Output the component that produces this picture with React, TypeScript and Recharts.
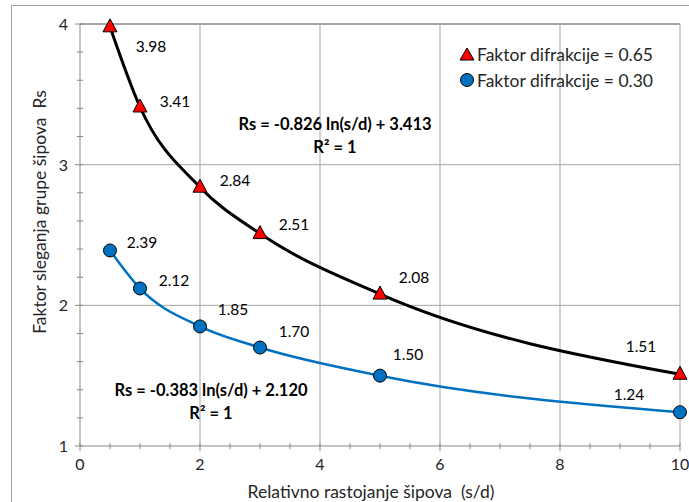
import React from 'react';
import { ComposedChart, Line, Scatter, XAxis, YAxis, ReferenceLine } from 'recharts';

const distances = [0.5, 1, 2, 3, 5, 10];
const rs065 = [3.98, 3.41, 2.84, 2.51, 2.08, 1.51];
const rs030 = [2.39, 2.12, 1.85, 1.7, 1.5, 1.24];

const xTicks = [0, 0.5, 1, 1.5, 2, 2.5, 3, 3.5, 4, 4.5, 5, 5.5, 6, 6.5, 7, 7.5, 8, 8.5, 9, 9.5, 10];
const yTicks = [1, 1.2, 1.4, 1.6, 1.8, 2, 2.2, 2.4, 2.6, 2.8, 3, 3.2, 3.4, 3.6, 3.8, 4];
const xGrid = [2, 4, 6, 8, 10];
const yGrid = [2, 3, 4];

// label offsets from each marker, in px
const redLabelOffsets = [[41, 19], [35, -6], [35, -7], [34, -10], [34, -17], [-39, -28]];
const blueLabelOffsets = [[32, -8], [34, -8], [33, -17], [34, -17], [28, -22], [-51, -18]];

const redData = distances.map((x, i) => ({ x, y: rs065[i] }));
const blueData = distances.map((x, i) => ({ x, y: rs030[i] }));

const FONT = 'Lato, "Open Sans", sans-serif';
const AXIS = '#898989';
const GRID = '#a6a6a6';
const TEXT = '#262626';

const isMajor = (v: number, step: number) => Math.abs(v / step - Math.round(v / step)) < 1e-6;

const XTick = (props: any) => {
  const { x, y, payload } = props;
  const major = isMajor(payload.value, 2);
  return (
    <g>
      <line x1={x} x2={x} y1={y - 3} y2={y + (major ? 5 : 3)} stroke={AXIS} />
      {major && (
        <text x={x} y={y + 24} textAnchor="middle" fontSize={16} fontFamily={FONT} fill={TEXT}>
          {payload.value}
        </text>
      )}
    </g>
  );
};

const YTick = (props: any) => {
  const { x, y, payload } = props;
  const major = isMajor(payload.value, 1);
  return (
    <g>
      <line x1={x - (major ? 5 : 3)} x2={x + 3} y1={y} y2={y} stroke={AXIS} />
      {major && (
        <text x={x - 12} y={y + 6} textAnchor="end" fontSize={16} fontFamily={FONT} fill={TEXT}>
          {payload.value}
        </text>
      )}
    </g>
  );
};

const makeShape = (kind: 'tri' | 'dot', values: number[], offsets: number[][]) => (props: any) => {
  const { cx, cy, payload } = props;
  const i = distances.indexOf(payload.x);
  const [dx, dy] = offsets[i];
  return (
    <g>
      {kind === 'tri' ? (
        <path
          d={`M${cx},${cy - 8} L${cx + 7},${cy + 5} L${cx - 7},${cy + 5} Z`}
          fill="#ff0000"
          stroke="#000"
          strokeWidth={1}
        />
      ) : (
        <circle cx={cx} cy={cy} r={6.5} fill="#0070c0" stroke="#000" strokeWidth={1} />
      )}
      <text x={cx + dx} y={cy + dy + 6} textAnchor="middle" fontSize={15.5} fontFamily={FONT} fill="#000">
        {values[i].toFixed(2)}
      </text>
    </g>
  );
};

const eqStyle: React.CSSProperties = {
  position: 'absolute',
  fontFamily: FONT,
  fontWeight: 'bold',
  fontSize: 16.5,
  color: '#000',
  textAlign: 'center',
  lineHeight: '23px',
  whiteSpace: 'nowrap',
};

const legendRow: React.CSSProperties = {
  display: 'flex',
  alignItems: 'center',
  height: 26,
  fontFamily: FONT,
  fontSize: 17.5,
  color: TEXT,
  whiteSpace: 'nowrap',
};

export default function App() {
  return (
    <div style={{ position: 'absolute', left: 0, top: 0, width: 689, height: 502, background: '#fff', overflow: 'hidden' }}>
      <div style={{ position: 'absolute', left: 11, top: 5, width: 700, height: 520, borderLeft: '1px solid #a0a0a0', borderTop: '1px solid #a0a0a0' }} />
      <ComposedChart width={689} height={502} margin={{ top: 24, right: 9, bottom: 0, left: 0 }}>
        <XAxis
          type="number"
          dataKey="x"
          domain={[0, 10]}
          ticks={xTicks}
          interval={0}
          allowDecimals
          height={56}
          tickSize={0}
          tickMargin={0}
          tickLine={false}
          tick={<XTick />}
          stroke={AXIS}
        />
        <YAxis
          type="number"
          domain={[1, 4]}
          ticks={yTicks}
          interval={0}
          width={80}
          tickSize={0}
          tickMargin={0}
          tickLine={false}
          tick={<YTick />}
          stroke={AXIS}
        />
        {xGrid.map((v) => (
          <ReferenceLine key={'gx' + v} x={v} stroke={GRID} strokeWidth={1} ifOverflow="visible" />
        ))}
        {/* top gridline sits on the plot's clip edge, so it gets a wider stroke */}
        {yGrid.map((v) => (
          <ReferenceLine
            key={'gy' + v}
            y={v}
            stroke={GRID}
            strokeWidth={v === 4 ? 2 : 1}
            ifOverflow="visible"
          />
        ))}
        <Line data={redData} dataKey="y" type="monotone" stroke="#000" strokeWidth={3} dot={false} activeDot={false} isAnimationActive={false} />
        <Line data={blueData} dataKey="y" type="monotone" stroke="#0070c0" strokeWidth={2.5} dot={false} activeDot={false} isAnimationActive={false} />
        <Scatter data={redData} dataKey="y" shape={makeShape('tri', rs065, redLabelOffsets)} isAnimationActive={false} />
        <Scatter data={blueData} dataKey="y" shape={makeShape('dot', rs030, blueLabelOffsets)} isAnimationActive={false} />
      </ComposedChart>

      <div
        style={{
          position: 'absolute',
          left: 39,
          top: 212,
          transform: 'translate(-50%, -50%) rotate(-90deg)',
          fontFamily: FONT,
          fontSize: 17.5,
          color: TEXT,
          whiteSpace: 'pre',
        }}
      >
        {'Faktor sleganja grupe šipova  Rs'}
      </div>
      <div
        style={{
          position: 'absolute',
          left: 371,
          top: 491,
          transform: 'translate(-50%, -50%)',
          fontFamily: FONT,
          fontSize: 17.5,
          color: TEXT,
          whiteSpace: 'pre',
        }}
      >
        {'Relativno rastojanje šipova  (s/d)'}
      </div>

      <div style={{ position: 'absolute', left: 459, top: 41 }}>
        <div style={legendRow}>
          <svg width={16} height={16} style={{ marginRight: 2 }}>
            <path d="M8,2 L15,14 L1,14 Z" fill="#ff0000" stroke="#000" strokeWidth={1} />
          </svg>
          Faktor difrakcije = 0.65
        </div>
        <div style={legendRow}>
          <svg width={16} height={16} style={{ marginRight: 2 }}>
            <circle cx={8} cy={8} r={6.5} fill="#0070c0" stroke="#000" strokeWidth={1} />
          </svg>
          Faktor difrakcije = 0.30
        </div>
      </div>

      <div style={{ ...eqStyle, left: 335, top: 113, transform: 'translateX(-50%)' }}>
        Rs = -0.826 ln(s/d) + 3.413
        <br />
        R² = 1
      </div>
      <div style={{ ...eqStyle, left: 211, top: 379, transform: 'translateX(-50%)' }}>
        Rs = -0.383 ln(s/d) + 2.120
        <br />
        R² = 1
      </div>
    </div>
  );
}
